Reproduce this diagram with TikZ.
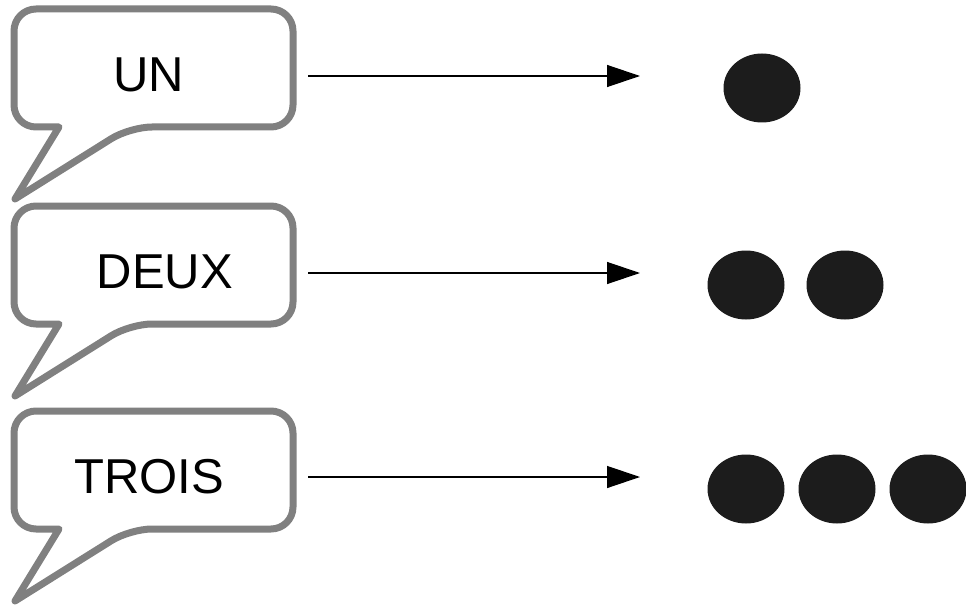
\documentclass[tikz,border=0pt]{standalone}
\usepackage{fontspec}
\setmainfont{Liberation Sans}
\usetikzlibrary{arrows.meta, positioning, shapes.geometric}
\definecolor{bubblegray}{RGB}{128,128,128}
\definecolor{dotblack}{RGB}{28,28,28}

\begin{document}
\begin{tikzpicture}[x=1pt, y=-1pt, >={Triangle[length=33pt,width=22pt]}]
        \tikzstyle{bubble}=[draw=bubblegray, line width=7pt, line join=round]
        \tikzstyle{word}=[anchor=base, inner sep=0pt, font=\fontsize{49}{58}\selectfont]
        \tikzstyle{dot}=[ellipse, fill=dotblack, minimum width=77pt, minimum height=69pt, inner sep=0pt]
        \tikzstyle{link}=[->, line width=1.3pt]

        \useasboundingbox (0,0) rectangle (966,607);

        % speech bubbles, one per row
        \foreach \dy in {0,197,402}
            \draw[bubble, shift={(0,\dy)}] (59,127) [rounded corners=22pt] -- (14,127) -- (14,9) -- (293,9) -- (293,127) -- (130,127) [sharp corners] -- (15,199) -- cycle;

        \node[word] (un)    at (149,92)  {UN};
        \node[word] (deux)  at (165,288) {DEUX};
        \node[word] (trois) at (149,493) {TROIS};

        \node[dot] (d11) at (762,88) {};
        \node[dot] (d21) at (746,285) {};
        \node[dot] (d22) [right of=d21, node distance=99pt] {};
        \node[dot] (d31) at (746,489) {};
        \node[dot] (d32) [right of=d31, node distance=91pt] {};
        \node[dot] (d33) [right of=d32, node distance=91pt] {};

        % arrows from words to counts
        \coordinate (s1) at (308,76);  \coordinate (e1) at (640,76);
        \coordinate (s2) at (308,273); \coordinate (e2) at (640,273);
        \coordinate (s3) at (308,477); \coordinate (e3) at (640,477);
        \draw[link] (s1) -- (e1);
        \draw[link] (s2) -- (e2);
        \draw[link] (s3) -- (e3);
\end{tikzpicture}
\end{document}
